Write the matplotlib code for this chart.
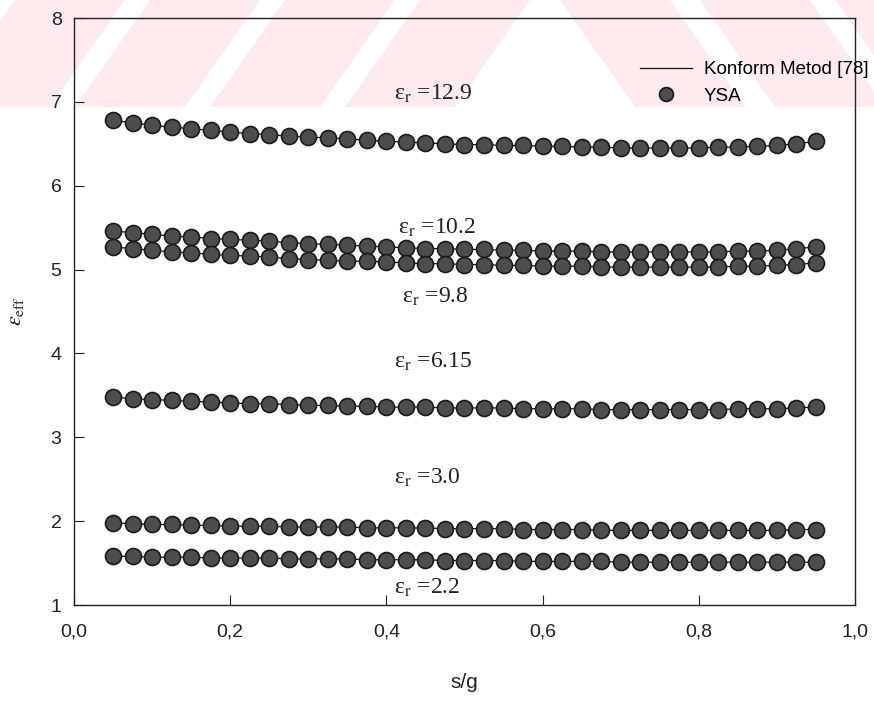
import matplotlib
matplotlib.use("Agg")
import matplotlib.pyplot as plt
from matplotlib.lines import Line2D
from matplotlib.patches import Polygon

plt.rcParams['font.family'] = ['Liberation Sans', 'DejaVu Sans']
plt.rcParams['mathtext.fontset'] = 'stix'

# s/g values (same grid for every curve)
s_g = [0.05, 0.075, 0.1, 0.125, 0.15, 0.175, 0.2, 0.225, 0.25, 0.275,
       0.3, 0.325, 0.35, 0.375, 0.4, 0.425, 0.45, 0.475, 0.5, 0.525,
       0.55, 0.575, 0.6, 0.625, 0.65, 0.675, 0.7, 0.725, 0.75, 0.775,
       0.8, 0.825, 0.85, 0.875, 0.9, 0.925, 0.95]

eps_12_9 = [6.78, 6.75, 6.72, 6.70, 6.68, 6.66, 6.64, 6.62, 6.61, 6.59,
            6.58, 6.57, 6.56, 6.54, 6.53, 6.52, 6.51, 6.50, 6.49, 6.49,
            6.48, 6.48, 6.47, 6.47, 6.46, 6.46, 6.45, 6.45, 6.45, 6.45,
            6.45, 6.46, 6.46, 6.47, 6.48, 6.50, 6.53]
eps_10_2 = [5.46, 5.44, 5.42, 5.40, 5.39, 5.37, 5.36, 5.35, 5.34, 5.32,
            5.31, 5.30, 5.29, 5.28, 5.27, 5.26, 5.25, 5.25, 5.24, 5.24,
            5.23, 5.23, 5.22, 5.22, 5.22, 5.21, 5.21, 5.21, 5.21, 5.21,
            5.21, 5.21, 5.22, 5.22, 5.23, 5.25, 5.27]
eps_9_8 = [5.27, 5.25, 5.23, 5.21, 5.20, 5.18, 5.17, 5.16, 5.15, 5.13,
           5.12, 5.11, 5.10, 5.10, 5.09, 5.08, 5.07, 5.07, 5.06, 5.06,
           5.05, 5.05, 5.04, 5.04, 5.04, 5.03, 5.03, 5.03, 5.03, 5.03,
           5.03, 5.03, 5.04, 5.04, 5.05, 5.06, 5.08]
eps_6_15 = [3.48, 3.46, 3.45, 3.44, 3.43, 3.42, 3.41, 3.40, 3.40, 3.39,
            3.38, 3.38, 3.37, 3.37, 3.36, 3.36, 3.36, 3.35, 3.35, 3.35,
            3.35, 3.34, 3.34, 3.34, 3.34, 3.33, 3.33, 3.33, 3.33, 3.33,
            3.33, 3.33, 3.34, 3.34, 3.34, 3.35, 3.36]
eps_3_0 = [1.98, 1.97, 1.96, 1.96, 1.95, 1.95, 1.94, 1.94, 1.94, 1.93,
           1.93, 1.93, 1.93, 1.92, 1.92, 1.92, 1.92, 1.91, 1.91, 1.91,
           1.91, 1.90, 1.90, 1.90, 1.90, 1.89, 1.89, 1.89, 1.89, 1.89,
           1.89, 1.89, 1.89, 1.89, 1.89, 1.90, 1.90]
eps_2_2 = [1.58, 1.58, 1.57, 1.57, 1.57, 1.56, 1.56, 1.56, 1.56, 1.55,
           1.55, 1.55, 1.55, 1.54, 1.54, 1.54, 1.54, 1.53, 1.53, 1.53,
           1.53, 1.52, 1.52, 1.52, 1.52, 1.52, 1.51, 1.51, 1.51, 1.51,
           1.51, 1.51, 1.51, 1.51, 1.51, 1.51, 1.51]

curves = [eps_12_9, eps_10_2, eps_9_8, eps_6_15, eps_3_0, eps_2_2]

# curve labels and where they sit (s/g, eps_eff)
label_text = ['12.9', '10.2', '9.8', '6.15', '3.0', '2.2']
label_x = [0.41, 0.415, 0.42, 0.41, 0.41, 0.41]
label_y = [7.10, 5.50, 4.68, 3.90, 2.52, 1.20]

xticks = [0.0, 0.2, 0.4, 0.6, 0.8, 1.0]
xtick_labels = ['0,0', '0,2', '0,4', '0,6', '0,8', '1,0']
yticks = [1, 2, 3, 4, 5, 6, 7, 8]

fig = plt.figure(figsize=(8.74, 7.01), dpi=100)
W, H = 874.0, 701.0

# faint pink watermark band at the top of the scan
pink = '#fdebef'
stripes = [(-60, '/'), (75, '/'), (210, '/'), (345, '/'), (560, '\\'), (700, '\\'), (835, '\\')]
for x0, d in stripes:
    w, dx, h = 110, 75, 107
    if d == '/':
        pts = [(x0, h), (x0 + w, h), (x0 + w + dx, 0), (x0 + dx, 0)]
    else:
        pts = [(x0 + dx, h), (x0 + w + dx, h), (x0 + w, 0), (x0, 0)]
    pts = [(px / W, 1 - py / H) for px, py in pts]
    fig.add_artist(Polygon(pts, closed=True, transform=fig.transFigure,
                           facecolor=pink, edgecolor='none', zorder=-5))

ax = fig.add_axes([74 / W, 1 - 605 / H, 781 / W, 587 / H])
ax.set_facecolor('none')

for y in curves:
    ax.plot(s_g, y, color='#111111', lw=0.9, zorder=2)
    ax.plot(s_g, y, linestyle='none', marker='o', ms=11.5,
            mfc='#4d4d4d', mec='#1a1a1a', mew=1.2, zorder=3)

for t, lx, ly in zip(label_text, label_x, label_y):
    ax.text(lx, ly, 'ε$_{\\mathrm{r}}$ =' + t, fontsize=17,
            family='Liberation Serif', color='#222222', ha='left', va='center')

ax.set_xlim(0, 1.0)
ax.set_ylim(1, 8)
ax.set_xticks(xticks)
ax.set_xticklabels(xtick_labels)
ax.set_yticks(yticks)
ax.tick_params(direction='in', length=7, width=0.8, labelsize=14,
               colors='#222222', top=False, right=False)
ax.tick_params(axis='x', pad=13)
ax.tick_params(axis='y', pad=9)
for sp in ax.spines.values():
    sp.set_linewidth(1.0)
    sp.set_color('#222222')

ax.set_xlabel('s/g', fontsize=15, labelpad=24, color='#222222')
ax.set_ylabel(r'$\varepsilon_{\mathrm{eff}}$', fontsize=16, labelpad=18, color='#222222')

handles = [Line2D([], [], color='#111111', lw=0.9),
           Line2D([], [], linestyle='none', marker='o', ms=10,
                  mfc='#4d4d4d', mec='#1a1a1a', mew=1.2)]
ax.legend(handles, ['Konform Metod [78]', 'YSA'], loc='upper left',
          bbox_to_anchor=(0.703, 0.955), frameon=False, fontsize=13.5,
          handlelength=2.8, handletextpad=0.6, labelspacing=0.5)

fig.savefig('out.png', dpi=100)
